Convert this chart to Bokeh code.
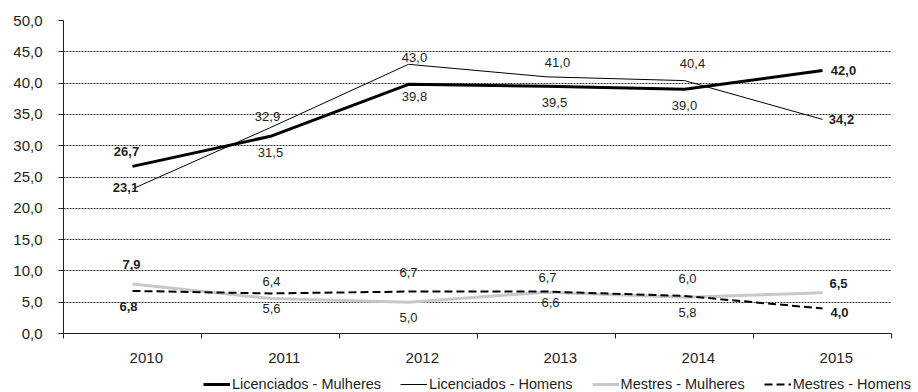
from bokeh.plotting import figure
from bokeh.layouts import column
from bokeh.models import (ColumnDataSource, FixedTicker, Legend, LegendItem, Range1d)
from bokeh.embed import file_html
from bokeh.resources import INLINE

# --- data -------------------------------------------------------------
years = ["2010", "2011", "2012", "2013", "2014", "2015"]
lic_mulheres = [26.7, 31.5, 39.8, 39.5, 39.0, 42.0]
lic_homens = [23.1, 32.9, 43.0, 41.0, 40.4, 34.2]
mes_mulheres = [7.9, 5.6, 5.0, 6.6, 5.8, 6.5]
mes_homens = [6.8, 6.4, 6.7, 6.7, 6.0, 4.0]
y_ticks = [0, 5, 10, 15, 20, 25, 30, 35, 40, 45, 50]

# data-label placement (screen pixel offsets from each point)
lm_dx = [-6, 0, 6, 8, 0, 21]
lm_dy = [-15, 16, 12, 16, 16, 0]
lh_dx = [-7, -3, 6, 11, 8, 19]
lh_dy = [-1, -11, -7, -14, -17, 0]
mm_dx = [-1, 1, 0, 4, 3, 16]
mm_dy = [-20, 10, 15, 10, 15, -9]
mh_dx = [-4, 1, 0, 1, 3, 17]
mh_dy = [16, -12, -19, -14, -17, 4]

FONT = "Liberation Sans"
TEXT = "#1e1e1e"


def pt(v):
    return f"{v:.1f}".replace(".", ",")


xs = [i + 0.5 for i in range(len(years))]

p = figure(width=918, height=368, output_backend="svg", toolbar_location=None,
           x_range=Range1d(0, len(years)), y_range=Range1d(0, 50),
           min_border_left=63, min_border_right=27, min_border_top=20,
           min_border_bottom=35)
p.frame_align = False
p.outline_line_color = None
p.background_fill_color = "white"
p.border_fill_color = "white"

# y axis
p.yaxis.ticker = FixedTicker(ticks=y_ticks)
p.yaxis.major_label_overrides = {t: pt(t) for t in y_ticks}
p.yaxis.major_label_text_font = FONT
p.yaxis.major_label_text_font_size = "15px"
p.yaxis.major_label_text_color = TEXT
p.yaxis.major_label_standoff = 16
p.yaxis.major_tick_out = 5
p.yaxis.major_tick_in = 0
p.yaxis.minor_tick_line_color = None
p.yaxis.axis_line_color = "#222222"
p.yaxis.major_tick_line_color = "#222222"

# x axis: category boundaries as ticks, year labels slightly right of centre
label_pos = [i + 0.6 for i in range(len(years))]
p.xaxis.ticker = FixedTicker(ticks=label_pos, minor_ticks=list(range(len(years) + 1)))
p.xaxis.major_label_overrides = {lp: y for lp, y in zip(label_pos, years)}
p.xaxis.major_tick_line_color = None
p.xaxis.major_tick_out = 0
p.xaxis.major_tick_in = 0
p.xaxis.minor_tick_out = 5
p.xaxis.minor_tick_in = 0
p.xaxis.minor_tick_line_color = "#222222"
p.xaxis.axis_line_color = "#222222"
p.xaxis.major_label_standoff = 14
p.xaxis.major_label_text_font = FONT
p.xaxis.major_label_text_font_size = "15px"
p.xaxis.major_label_text_color = TEXT

# grid
p.xgrid.grid_line_color = None
p.ygrid.grid_line_color = "#303030"
p.ygrid.grid_line_dash = "2 1"
p.ygrid.grid_line_width = 1

series = [
    ("Licenciados - Mulheres", lic_mulheres, dict(line_color="black", line_width=3), lm_dx, lm_dy),
    ("Licenciados - Homens", lic_homens, dict(line_color="black", line_width=1), lh_dx, lh_dy),
    ("Mestres - Mulheres", mes_mulheres, dict(line_color="#c8c8c8", line_width=3), mm_dx, mm_dy),
    ("Mestres - Homens", mes_homens, dict(line_color="black", line_width=2, line_dash="8 4"), mh_dx, mh_dy),
]

for name, vals, style, dx, dy in series:
    src = ColumnDataSource(dict(x=xs, y=vals))
    p.line("x", "y", source=src, line_join="round", **style)

for name, vals, style, dx, dy in series:
    src = ColumnDataSource(dict(
        x=xs, y=vals, label=[pt(v) for v in vals],
        dx=dx, dy=dy,
        fstyle=["bold"] + ["normal"] * (len(vals) - 2) + ["bold"],
    ))
    p.text("x", "y", text="label", source=src, x_offset="dx", y_offset="dy",
           text_align="center", text_baseline="middle",
           text_font_size="13px", text_font_style="fstyle",
           text_color=TEXT, text_font={"value": FONT})

# legend row underneath the chart; its key renderers carry no visible data
leg = figure(width=918, height=24, output_backend="svg", toolbar_location=None,
             x_range=Range1d(0, 1), y_range=Range1d(0, 1), min_border=0)
leg.frame_align = False
leg.axis.visible = False
leg.grid.grid_line_color = None
leg.outline_line_color = None

items = []
for name, vals, style, dx, dy in series:
    r = leg.line(x=[float("nan")], y=[float("nan")], **style)
    items.append(LegendItem(label=name, renderers=[r]))

legend = Legend(items=items, orientation="horizontal", location=(203, 0),
                padding=0, margin=0, spacing=19, glyph_width=27, glyph_height=16,
                label_height=16, label_standoff=2, label_text_font=FONT,
                label_text_font_size="14.5px", label_text_color=TEXT,
                background_fill_alpha=0, border_line_alpha=0)
leg.add_layout(legend)

open("out.html", "w").write(file_html(column(p, leg, spacing=0), INLINE))
